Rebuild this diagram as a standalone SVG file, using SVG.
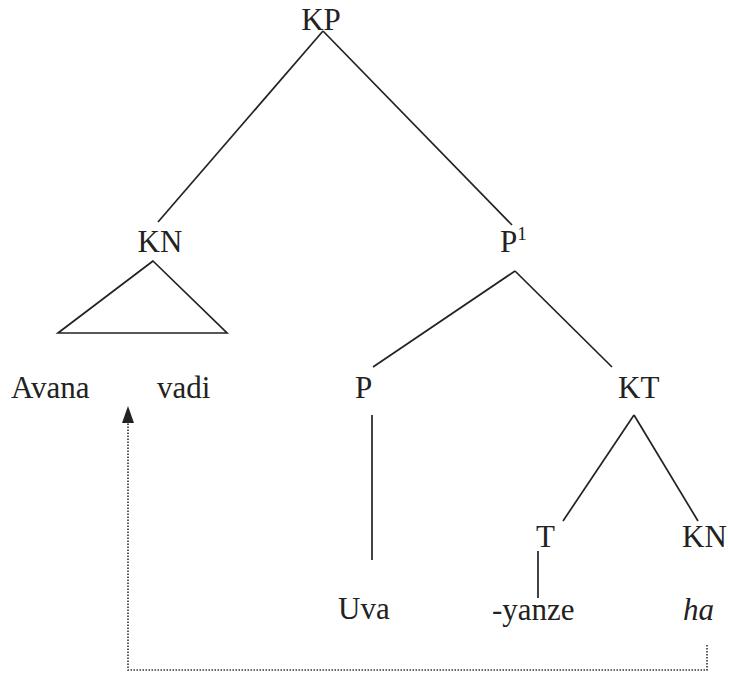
<svg xmlns="http://www.w3.org/2000/svg" width="729" height="679" viewBox="0 0 729 679">
<style>
.t{font-family:"Liberation Serif","Times New Roman",serif;font-size:31px;fill:#222}
.e{stroke:#222;stroke-width:1.7;fill:none}
.d{stroke:#333;stroke-width:1.6;fill:none;stroke-dasharray:1.5 1.5}
</style>
<rect width="729" height="679" fill="#fff"/>
<g id="connectors">
<line class="e" x1="323" y1="31" x2="158" y2="222"/>
<line class="e" x1="323" y1="31" x2="512" y2="225"/>
<polygon class="e" points="153,261 58,333 227,333"/>
<line class="e" x1="515" y1="271" x2="373" y2="367"/>
<line class="e" x1="515" y1="271" x2="612" y2="367"/>
<line class="e" x1="372" y1="415" x2="372" y2="560"/>
<line class="e" x1="634" y1="415" x2="563" y2="521"/>
<line class="e" x1="634" y1="415" x2="698" y2="521"/>
<line class="e" x1="538" y1="551" x2="538" y2="598"/>
<polyline class="d" points="707,645 707,670 128,670 128,422"/>
<path d="M122,423 L128,406 L134,423 Z" fill="#222"/>
</g>
<g id="n-KP"><text class="t" x="321" y="30" text-anchor="middle">KP</text></g>
<g id="n-KN1"><text class="t" x="160" y="252" text-anchor="middle">KN</text></g>
<g id="n-P1"><text class="t" x="500" y="252">P<tspan font-size="19" dy="-12">1</tspan></text></g>
<g id="n-Avana"><text class="t" x="11" y="398">Avana</text></g>
<g id="n-vadi"><text class="t" x="157" y="398">vadi</text></g>
<g id="n-P"><text class="t" x="355" y="398">P</text></g>
<g id="n-KT"><text class="t" x="618" y="398">KT</text></g>
<g id="n-T"><text class="t" x="536" y="547">T</text></g>
<g id="n-KN2"><text class="t" x="682" y="547">KN</text></g>
<g id="n-Uva"><text class="t" x="338" y="619">Uva</text></g>
<g id="n-yanze"><text class="t" x="492" y="620">-yanze</text></g>
<g id="n-ha"><text class="t" x="683" y="620" font-style="italic">ha</text></g>
</svg>
